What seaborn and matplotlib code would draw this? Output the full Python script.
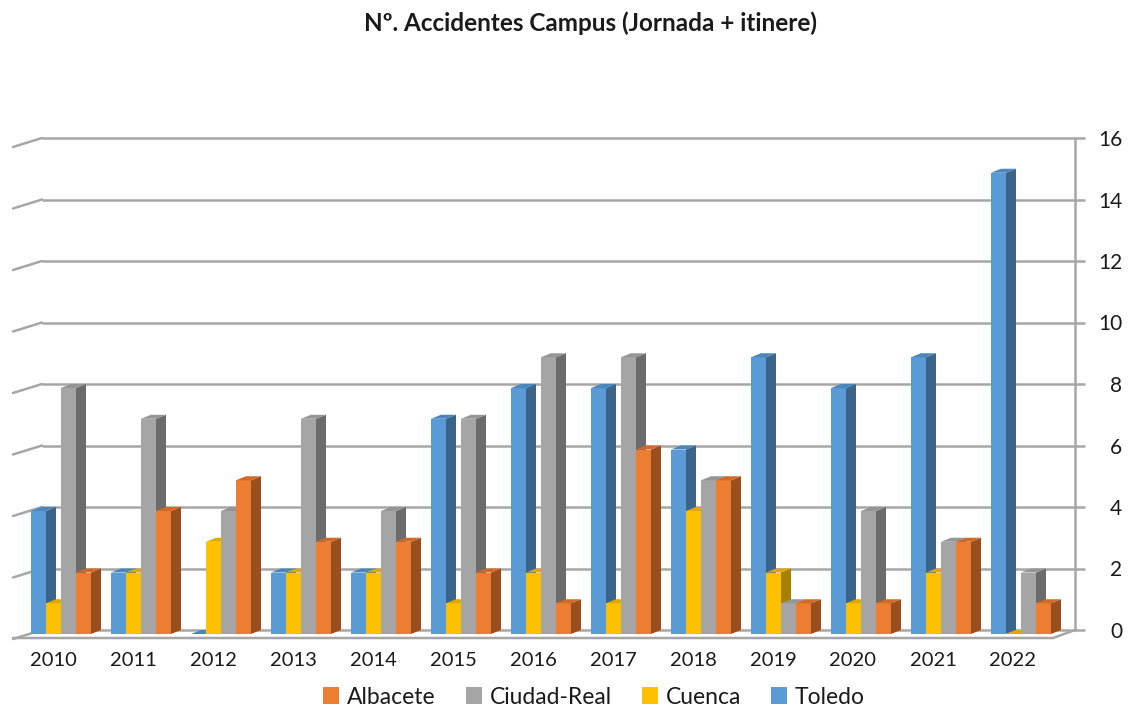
import numpy as np
import pandas as pd
import matplotlib
matplotlib.use('Agg')
import matplotlib.pyplot as plt
import matplotlib.transforms as mtransforms
from matplotlib.patches import Polygon, Patch
import seaborn as sns

# ── Datos ────────────────────────────────────────────────────────────────────
years       = ['2010', '2011', '2012', '2013', '2014', '2015', '2016',
               '2017', '2018', '2019', '2020', '2021', '2022']
toledo      = [4, 2, 0, 2, 2, 7, 8, 8, 6, 9, 8, 9, 15]
cuenca      = [1, 2, 3, 2, 2, 1, 2, 1, 4, 2, 1, 2, 0]
ciudad_real = [8, 7, 4, 7, 4, 7, 9, 9, 5, 1, 4, 3, 2]
albacete    = [2, 4, 5, 3, 3, 2, 1, 6, 5, 1, 1, 3, 1]
y_ticks     = [0, 2, 4, 6, 8, 10, 12, 14, 16]

series_order = ['Toledo', 'Cuenca', 'Ciudad-Real', 'Albacete']
legend_order = ['Albacete', 'Ciudad-Real', 'Cuenca', 'Toledo']

FRONT = {'Toledo': '#5B9BD5', 'Cuenca': '#FFC000',
         'Ciudad-Real': '#A5A5A5', 'Albacete': '#ED7D31'}
SIDE  = {'Toledo': '#3B6489', 'Cuenca': '#A88000',
         'Ciudad-Real': '#6B6B6B', 'Albacete': '#9C4F1E'}
TOP   = {'Toledo': '#4A86BD', 'Cuenca': '#E0A800',
         'Ciudad-Real': '#959595', 'Albacete': '#D26A25'}
GRID  = '#A6A6A6'
TEXT  = '#1a1a1a'

df = pd.DataFrame({
    'year': years * 4,
    'campus': sum([[s] * len(years) for s in series_order], []),
    'valor': toledo + cuenca + ciudad_real + albacete,
})

sns.set_style('white')
plt.rcParams['font.family'] = ['Lato', 'DejaVu Sans']

W, H = 1146, 711
fig = plt.figure(figsize=(W / 100, H / 100), dpi=100)

# geometría (pixeles) del plano frontal / pared trasera
ppu = 30.75                      # px por unidad en y
ax_left, ax_right = 13, 1075
ax_bottom, ax_top = 638, 130
cat_px = 80
ax = fig.add_axes([ax_left / W, 1 - ax_bottom / H,
                   (ax_right - ax_left) / W, (ax_bottom - ax_top) / H])

sns.barplot(data=df, x='year', y='valor', hue='campus', hue_order=series_order,
            order=years, palette=FRONT, width=0.75, saturation=1, dodge=True,
            linewidth=0, legend=False, ax=ax, errorbar=None)

# seaborn fija los límites; se ajustan después
ax.set_ylim(-4 / ppu, 16 + (142 - ax_top) / ppu)
ax.set_xlim(-0.5, -0.5 + (ax_right - ax_left) / cat_px)

dx = 10 / cat_px
dy = 4 / ppu
shift = 0.1
for cont, name in zip(ax.containers, series_order):
    for bar in cont:
        bar.set_x(bar.get_x() + shift)
        x, w, h = bar.get_x(), bar.get_width(), bar.get_height()
        z = 3 + (x + 1) * 0.1
        bar.set_zorder(z)
        bar.set_linewidth(0)
        side = Polygon([(x + w, 0), (x + w + dx, dy), (x + w + dx, h + dy), (x + w, h)],
                       closed=True, facecolor=SIDE[name], edgecolor='none', zorder=z + 0.005)
        top = Polygon([(x, h), (x + dx, h + dy), (x + w + dx, h + dy), (x + w, h)],
                      closed=True, facecolor=TOP[name], edgecolor='none', zorder=z + 0.006)
        ax.add_patch(side)
        ax.add_patch(top)

# pared trasera: líneas de cuadrícula con extremo inclinado
t = ax.get_yaxis_transform()
axw = ax_right - ax_left
x_back = 29 / axw
x_tick_end = 1 + 10 / axw
for v in y_ticks:
    yb = v + dy
    ax.plot([x_back, x_tick_end], [yb, yb], transform=t, color=GRID, lw=1.8,
            zorder=1, clip_on=False, solid_capstyle='butt')
    ax.plot([0, x_back], [yb - 9 / ppu, yb], transform=t, color=GRID, lw=1.8,
            zorder=1, clip_on=False)
ax.plot([1, 1], [dy, 16 + dy], transform=t, color=GRID, lw=1.8, zorder=1, clip_on=False)

# suelo: borde frontal
x_front_end = (13 * cat_px) / axw
ax.plot([0, x_front_end, 1], [-4 / ppu, -4 / ppu, dy], transform=t, color=GRID,
        lw=1.8, zorder=1, clip_on=False)

for s in ax.spines.values():
    s.set_visible(False)
ax.grid(False)

# eje x
ax.set_xticks(range(len(years)))
ax.set_xticklabels(years)
ax.set_xticks(np.arange(len(years) + 1) - 0.5, minor=True)
ax.tick_params(axis='x', which='major', length=0, pad=10, labelsize=14.5, labelcolor=TEXT)
ax.tick_params(axis='x', which='minor', length=6, width=1.4, color=GRID, direction='out')
ax.set_xlabel('')

# eje y (derecha)
ax.yaxis.tick_right()
ax.set_yticks(y_ticks)
ax.set_yticklabels([str(v) for v in y_ticks])
ax.tick_params(axis='y', length=0, pad=34, labelsize=15, labelcolor=TEXT)
off = mtransforms.ScaledTranslation(0, 4 / 100, fig.dpi_scale_trans)
for lab in ax.get_yticklabels():
    lab.set_ha('right')
    lab.set_transform(lab.get_transform() + off)
ax.set_ylabel('')

# título
fig.text(590 / W, 1 - 23 / H, 'Nº. Accidentes Campus (Jornada + itinere)',
         ha='center', va='center', fontsize=17.5, fontweight='bold', color=TEXT)

# leyenda
handles = [Patch(facecolor=FRONT[n], edgecolor='none', label=n) for n in legend_order]
fig.legend(handles=handles, loc='center', bbox_to_anchor=(594 / W, 1 - 697 / H),
           ncol=4, frameon=False, fontsize=16.5, handlelength=0.7, handleheight=0.7,
           handletextpad=0.35, columnspacing=1.3, labelcolor=TEXT)

fig.savefig('out.png', dpi=100, facecolor='white')
